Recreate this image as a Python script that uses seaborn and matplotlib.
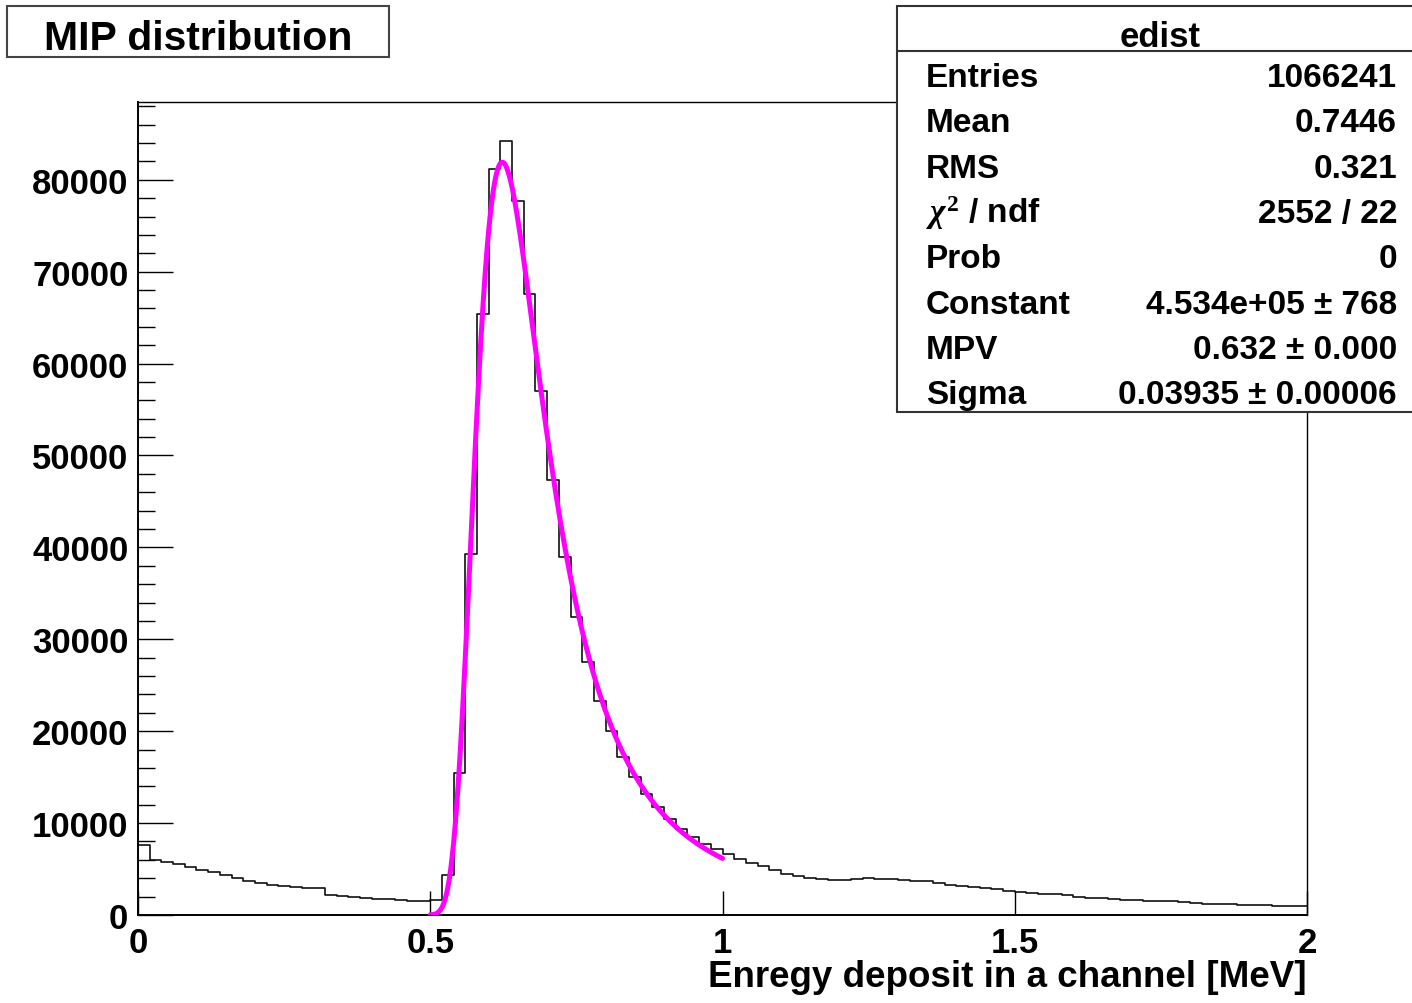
import numpy as np
import pandas as pd
import matplotlib
matplotlib.use("Agg")
import matplotlib.pyplot as plt
from matplotlib.patches import Rectangle
from matplotlib.ticker import MultipleLocator, FixedLocator, NullLocator, FuncFormatter
import seaborn as sns

# ---- histogram: energy deposit per channel, 100 bins on [0, 2] MeV ----
energy_min = 0.0
energy_max = 2.0
counts = [
    7600, 6000, 5750, 5500, 5200, 4900, 4650, 4350, 4050, 3750,
    3500, 3300, 3150, 3000, 2950, 2900, 2200, 2050, 1950, 1800,
    1750, 1700, 1600, 1550, 1550, 1600, 4300, 15450, 39300, 65400,
    81200, 84250, 77700, 67550, 57050, 47300, 38900, 32400, 27500, 23300,
    20050, 17150, 15000, 13150, 11700, 10400, 9350, 8450, 7700, 7200,
    6600, 6100, 5700, 5300, 4850, 4500, 4250, 4050, 3900, 3850,
    3850, 3900, 4000, 3950, 3900, 3800, 3700, 3650, 3450, 3300,
    3150, 3000, 2900, 2800, 2650, 2500, 2400, 2300, 2250, 2150,
    2000, 1900, 1850, 1750, 1650, 1600, 1550, 1500, 1500, 1450,
    1350, 1250, 1200, 1150, 1100, 1050, 1050, 1000, 1000, 1000,
]

# ---- Landau fit result ----
fit_constant = 4.534e5
fit_mpv = 0.632
fit_sigma = 0.03935
fit_lo = 0.5
fit_hi = 1.0

# ---- statistics box ----
stats_title = "edist"
stats_labels = ["Entries", "Mean", "RMS", r"$\chi^{2}$ / ndf", "Prob",
                "Constant", "MPV", "Sigma"]
stats_values = ["1066241", "0.7446", "0.321", "2552 / 22", "0",
                "4.534e+05 \u00b1 768", "0.632 \u00b1 0.000",
                "0.03935 \u00b1 0.00006"]

x_ticks = [0, 0.5, 1, 1.5, 2]
plot_title = "MIP distribution"
x_title = "Enregy deposit in a channel [MeV]"


def landau_density(lam):
    """Standard Landau density, integrated along the vertical line
    through the saddle point of the inverse Laplace transform."""
    t = np.linspace(0.0, 80.0, 16001)
    out = np.empty(len(lam))
    for i, l in enumerate(lam):
        c = np.exp(-(1.0 + l))
        s = c + 1j * t
        out[i] = np.trapezoid(np.exp(s * np.log(s) + l * s).real, t) / np.pi
    return out


sns.set_theme(style="ticks")
plt.rcParams["font.family"] = ["Liberation Sans", "DejaVu Sans"]
plt.rcParams["font.weight"] = "bold"
plt.rcParams["mathtext.fontset"] = "custom"
plt.rcParams["mathtext.rm"] = "Liberation Serif"
plt.rcParams["mathtext.it"] = "Liberation Serif:italic"
plt.rcParams["mathtext.bf"] = "Liberation Serif:bold"
plt.rcParams["text.color"] = "black"
plt.rcParams["axes.labelcolor"] = "black"
plt.rcParams["axes.edgecolor"] = "black"
plt.rcParams["xtick.color"] = "black"
plt.rcParams["ytick.color"] = "black"
plt.rcParams["xtick.labelcolor"] = "black"
plt.rcParams["ytick.labelcolor"] = "black"

W, H = 1412, 1004
fig = plt.figure(figsize=(W / 100, H / 100), dpi=100)
fig.patch.set_facecolor("white")


def fx(px):
    return px / W


def fy(py):
    return 1.0 - py / H


ax = fig.add_axes([fx(138), fy(916), fx(1307) - fx(138), fy(103) - fy(916)])
ax.set_facecolor("white")

n_bins = len(counts)
bin_width = (energy_max - energy_min) / n_bins
centers = energy_min + bin_width * (np.arange(n_bins) + 0.5)
hist_df = pd.DataFrame({"energy": centers, "count": counts})

sns.histplot(data=hist_df, x="energy", weights="count",
             binwidth=bin_width, binrange=(energy_min, energy_max),
             element="step", fill=False, color="#111111", linewidth=1.2,
             ax=ax, zorder=2)

xf = np.linspace(fit_lo, fit_hi, 400)
yf = fit_constant * landau_density((xf - fit_mpv) / fit_sigma)
fit_df = pd.DataFrame({"energy": xf, "fit": yf})
sns.lineplot(data=fit_df, x="energy", y="fit", color="#ff00ff",
             linewidth=3.6, ax=ax, zorder=3, sort=False)

ax.set_xlim(energy_min, energy_max)
ax.set_ylim(0, 1.05 * max(counts))

ax.xaxis.set_major_locator(FixedLocator(x_ticks))
ax.xaxis.set_minor_locator(NullLocator())
ax.xaxis.set_major_formatter(FuncFormatter(lambda v, p: f"{v:g}"))
ax.yaxis.set_major_locator(MultipleLocator(10000))
ax.yaxis.set_minor_locator(MultipleLocator(2000))
ax.yaxis.set_major_formatter(FuncFormatter(lambda v, p: f"{v:.0f}"))

ax.tick_params(axis="x", which="major", direction="in", length=17,
               width=1.0, pad=8, labelsize=25)
ax.tick_params(axis="y", which="major", direction="in", length=25,
               width=1.0, pad=7, labelsize=25)
ax.tick_params(axis="y", which="minor", direction="in", length=12.5,
               width=1.0)
ax.tick_params(top=False, right=False)

for side in ["left", "bottom", "top", "right"]:
    ax.spines[side].set_visible(True)
    ax.spines[side].set_color("black")
ax.spines["left"].set_linewidth(1.4)
ax.spines["bottom"].set_linewidth(1.4)
ax.spines["top"].set_linewidth(1.0)
ax.spines["right"].set_linewidth(1.0)

ax.set_ylabel("")
ax.set_xlabel(x_title, loc="right", fontsize=26.5, fontweight="bold")
ax.xaxis.set_label_coords(1.0, -(960 - 916) / (916 - 103))

# title box
fig.patches.append(Rectangle((fx(7), fy(58)), fx(389) - fx(7), fy(7) - fy(58),
                             transform=fig.transFigure, facecolor="white",
                             edgecolor="#444444", linewidth=1.5, zorder=5))
fig.text(fx(198), fy(50), plot_title, ha="center", va="baseline",
         fontsize=29.5, fontweight="bold", zorder=6)

# statistics box
fig.patches.append(Rectangle((fx(897), fy(413)), fx(1420) - fx(897),
                             fy(7) - fy(413), transform=fig.transFigure,
                             facecolor="white", edgecolor="#333333",
                             linewidth=1.5, zorder=5))
fig.add_artist(plt.Line2D([fx(897), fx(1420)], [fy(52), fy(52)],
                          transform=fig.transFigure, color="#333333",
                          linewidth=1.5, zorder=6))
fig.text(fx(1160), fy(47), stats_title, ha="center", va="baseline",
         fontsize=25, fontweight="bold", zorder=6)
row0 = 87
row_step = 45.3
for i, (lab, val) in enumerate(zip(stats_labels, stats_values)):
    yb = row0 + i * row_step
    fig.text(fx(926), fy(yb), lab, ha="left", va="baseline",
             fontsize=24, fontweight="bold", zorder=6)
    fig.text(fx(1397), fy(yb), val, ha="right", va="baseline",
             fontsize=24, fontweight="bold", zorder=6)

fig.savefig("out.png", dpi=100, facecolor="white")
